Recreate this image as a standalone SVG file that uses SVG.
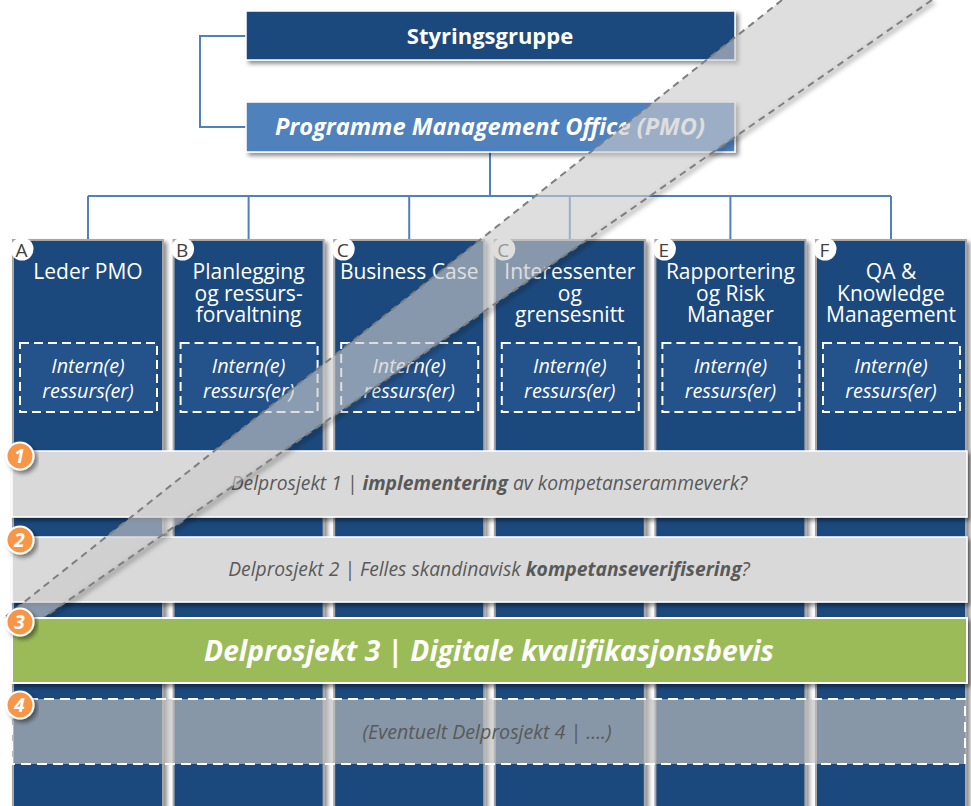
<svg xmlns="http://www.w3.org/2000/svg" width="971" height="806" viewBox="0 0 971 806">
<defs>
<filter id="sh" x="-10%" y="-20%" width="130%" height="160%"><feDropShadow dx="3" dy="3" stdDeviation="2" flood-color="#000" flood-opacity="0.45"/></filter>
<filter id="blur" x="-10%" y="-10%" width="120%" height="120%"><feGaussianBlur stdDeviation="2.5"/></filter>
</defs>
<style>
text{font-family:"Open Sans","Liberation Sans",sans-serif}
.conn{fill:none;stroke:#4f81bd;stroke-width:2}
.col{fill:#1f497d;stroke:#a6a6a6;stroke-width:2}
.inner{fill:#24528b;stroke:#fff;stroke-width:2;stroke-dasharray:9 5}
.hdr{font-size:21px;fill:#fff;text-anchor:middle}
.int{font-size:19.8px;font-style:italic;fill:#fff;text-anchor:middle}
.lb{fill:#fff}
.lt{font-size:19px;fill:#404040;text-anchor:middle}
.bar{fill:#d9d9d9;stroke:#fff;stroke-width:1.5}
.bt{font-size:19.3px;font-style:italic;fill:#595959;text-anchor:middle}
.nb{fill:#f79646;stroke:#fff;stroke-width:2}
.nt{font-size:19px;font-weight:bold;font-style:italic;fill:#fff;text-anchor:middle}
.band{stroke:#7f7f7f;stroke-width:2;stroke-dasharray:7 5;fill:none}
</style>

<g id="connectors">
<polyline class="conn" points="246,36 200,36 200,127 246,127"/>
<polyline class="conn" points="490,152 490,196"/>
<line class="conn" x1="88" y1="196" x2="891" y2="196"/>
<line class="conn" x1="88" y1="196" x2="88" y2="240"/>
<line class="conn" x1="248.6" y1="196" x2="248.6" y2="240"/>
<line class="conn" x1="409.2" y1="196" x2="409.2" y2="240"/>
<line class="conn" x1="569.8" y1="196" x2="569.8" y2="240"/>
<line class="conn" x1="730.4" y1="196" x2="730.4" y2="240"/>
<line class="conn" x1="891" y1="196" x2="891" y2="240"/>
</g>

<g id="styringsgruppe">
<rect x="246" y="11" width="489" height="49" fill="#1f497d" stroke="#fff" stroke-width="1.5" filter="url(#sh)"/>
<text x="490" y="44" style="font-size:22px;font-weight:bold;fill:#fff;text-anchor:middle">Styringsgruppe</text>
</g>

<g id="pmo">
<rect x="246" y="102" width="489" height="50" fill="#4f81bd" stroke="#fff" stroke-width="1.5" filter="url(#sh)"/>
<text x="490" y="135" style="font-size:23.6px;font-weight:bold;font-style:italic;fill:#fff;text-anchor:middle">Programme Management Office (PMO)</text>
</g>

<g id="colA">
<rect class="col" x="13" y="240" width="150" height="580" filter="url(#sh)"/>
<circle class="lb" cx="22" cy="249" r="11.5"/>
<text class="lt" x="21.5" y="257">A</text>
<text class="hdr" x="88" y="279">Leder PMO</text>
<rect class="inner" x="20" y="343" width="137" height="69"/>
<text class="int" x="88" y="373">Intern(e)</text>
<text class="int" x="88" y="398">ressurs(er)</text>
</g>

<g id="colB">
<rect class="col" x="173.6" y="240" width="150" height="580" filter="url(#sh)"/>
<circle class="lb" cx="182.6" cy="249" r="11.5"/>
<text class="lt" x="182.1" y="257">B</text>
<text class="hdr" x="248.6" y="279">Planlegging</text>
<text class="hdr" x="248.6" y="300.5">og ressurs-</text>
<text class="hdr" x="248.6" y="322">forvaltning</text>
<rect class="inner" x="180.6" y="343" width="137" height="69"/>
<text class="int" x="248.6" y="373">Intern(e)</text>
<text class="int" x="248.6" y="398">ressurs(er)</text>
</g>

<g id="colC">
<rect class="col" x="334.2" y="240" width="150" height="580" filter="url(#sh)"/>
<circle class="lb" cx="343.2" cy="249" r="11.5"/>
<text class="lt" x="342.7" y="257">C</text>
<text class="hdr" x="409.2" y="279">Business Case</text>
<rect class="inner" x="341.2" y="343" width="137" height="69"/>
<text class="int" x="409.2" y="373">Intern(e)</text>
<text class="int" x="409.2" y="398">ressurs(er)</text>
</g>

<g id="colD">
<rect class="col" x="494.8" y="240" width="150" height="580" filter="url(#sh)"/>
<circle class="lb" cx="503.8" cy="249" r="11.5"/>
<text class="lt" x="503.3" y="257">C</text>
<text class="hdr" x="569.8" y="279">Interessenter</text>
<text class="hdr" x="569.8" y="300.5">og</text>
<text class="hdr" x="569.8" y="322">grensesnitt</text>
<rect class="inner" x="501.8" y="343" width="137" height="69"/>
<text class="int" x="569.8" y="373">Intern(e)</text>
<text class="int" x="569.8" y="398">ressurs(er)</text>
</g>

<g id="colE">
<rect class="col" x="655.4" y="240" width="150" height="580" filter="url(#sh)"/>
<circle class="lb" cx="664.4" cy="249" r="11.5"/>
<text class="lt" x="663.9" y="257">E</text>
<text class="hdr" x="730.4" y="279">Rapportering</text>
<text class="hdr" x="730.4" y="300.5">og Risk</text>
<text class="hdr" x="730.4" y="322">Manager</text>
<rect class="inner" x="662.4" y="343" width="137" height="69"/>
<text class="int" x="730.4" y="373">Intern(e)</text>
<text class="int" x="730.4" y="398">ressurs(er)</text>
</g>

<g id="colF">
<rect class="col" x="816" y="240" width="150" height="580" filter="url(#sh)"/>
<circle class="lb" cx="825" cy="249" r="11.5"/>
<text class="lt" x="824.5" y="257">F</text>
<text class="hdr" x="891" y="279">QA &amp;</text>
<text class="hdr" x="891" y="300.5">Knowledge</text>
<text class="hdr" x="891" y="322">Management</text>
<rect class="inner" x="823" y="343" width="137" height="69"/>
<text class="int" x="891" y="373">Intern(e)</text>
<text class="int" x="891" y="398">ressurs(er)</text>
</g>

<g id="bar1">
<rect class="bar" x="12" y="451" width="955" height="66" filter="url(#sh)"/>
<text class="bt" x="489" y="490">Delprosjekt 1 | <tspan font-weight="bold">implementering</tspan> av kompetanserammeverk?</text>
</g>

<g id="bar2">
<rect class="bar" x="12" y="537" width="955" height="65" filter="url(#sh)"/>
<text class="bt" x="489" y="576">Delprosjekt 2 | Felles skandinavisk <tspan font-weight="bold">kompetanseverifisering</tspan>?</text>
</g>

<g id="band">
<line x1="934" y1="2" x2="45" y2="620" stroke="#000" stroke-opacity="0.3" stroke-width="4" filter="url(#blur)"/>
<polygon points="782,0 932,0 43,618 4,618" fill="#cacaca" fill-opacity="0.62"/>
<line class="band" x1="782" y1="0" x2="4" y2="618"/>
<line class="band" x1="932" y1="0" x2="43" y2="618"/>
</g>

<g id="bar3">
<rect x="12" y="618" width="955" height="65" fill="#9bbb59" stroke="#fff" stroke-width="2" filter="url(#sh)"/>
<text x="489" y="661" style="font-size:28.2px;font-weight:bold;font-style:italic;fill:#fff;text-anchor:middle">Delprosjekt 3 | Digitale kvalifikasjonsbevis</text>
</g>

<g id="bar4">
<rect x="12" y="699" width="953" height="65" fill="#bfbfbf" fill-opacity="0.66" stroke="#fff" stroke-width="2" stroke-dasharray="10 6"/>
<text class="bt" x="487" y="739" style="font-size:19.6px">(Eventuelt Delprosjekt 4 | ….)</text>
</g>

<g id="badge1"><circle class="nb" cx="20" cy="456" r="13.5" filter="url(#sh)"/><text class="nt" x="19.5" y="463">1</text></g>
<g id="badge2"><circle class="nb" cx="20" cy="540" r="13.5" filter="url(#sh)"/><text class="nt" x="19.5" y="547">2</text></g>
<g id="badge3"><circle class="nb" cx="20" cy="622" r="13.5" filter="url(#sh)"/><text class="nt" x="19.5" y="629">3</text></g>
<g id="badge4"><circle class="nb" cx="20" cy="705" r="13.5" filter="url(#sh)"/><text class="nt" x="19.5" y="712">4</text></g>
</svg>
